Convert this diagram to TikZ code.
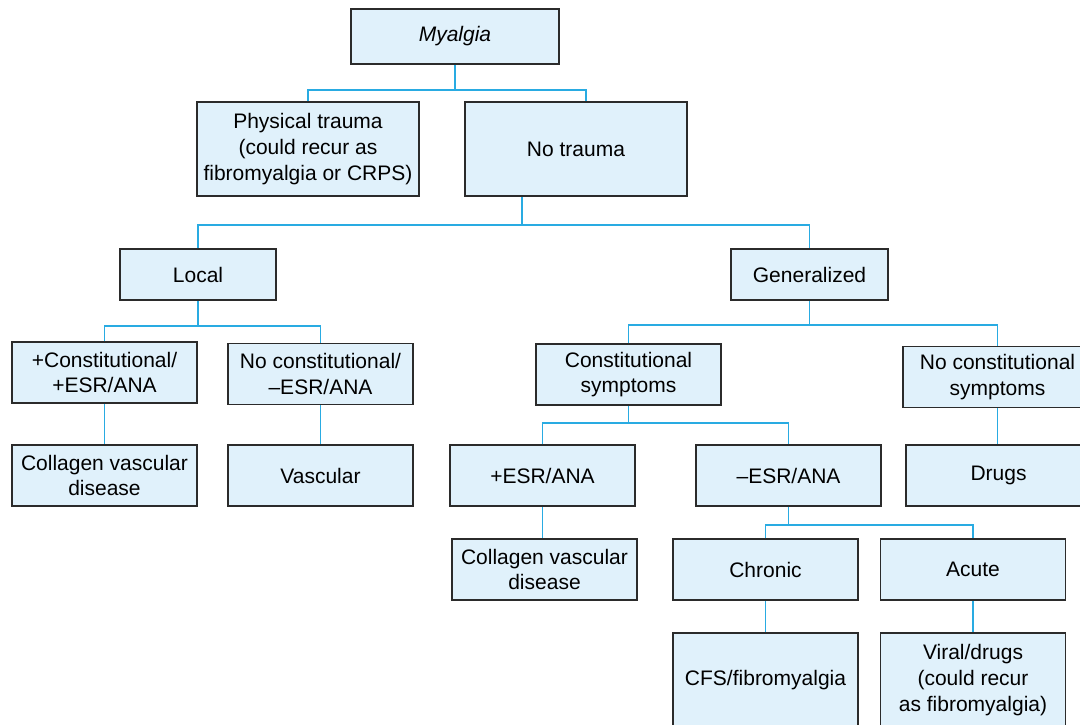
\documentclass[tikz,border=0pt]{standalone}
\usepackage{fontspec}
\setmainfont{Liberation Sans}
\definecolor{boxfill}{HTML}{E0F1FB}
\definecolor{linkblue}{HTML}{29ABE2}
\definecolor{boxedge}{HTML}{2B2B2B}
\begin{document}
\begin{tikzpicture}
  [x=0.5pt,y=-0.5pt,
   box/.style={draw=boxedge,fill=boxfill,line width=0.75pt,align=center,inner sep=0pt,
     minimum width=92.5pt,minimum height=30.5pt,font=\fontsize{10.5}{12.8}\selectfont},
   tall/.style={minimum height=47pt},
   link/.style={draw=linkblue,line width=0.75pt}]
  \useasboundingbox (0,0) rectangle (1080,724);
  \clip (0,0) rectangle (1080,724);

  % Cajas
  \node[box,minimum width=104pt,minimum height=27.5pt] (myalgia) at (455,36.5) {\itshape Myalgia};
  \node[box,tall,minimum width=111pt] (trauma) at (308,149) {Physical trauma\\(could recur as\\fibromyalgia or CRPS)};
  \node[box,tall,minimum width=111pt] (notrauma) at (576,149) {No trauma};

  \node[box,minimum width=78pt,minimum height=25.5pt] (local) at (198,274.5) {Local};
  \node[box,minimum width=78.5pt,minimum height=25.5pt] (general) at (809.5,274.5) {Generalized};

  \node[box] (constpos) at (104.5,372.5) {+Constitutional/\\+ESR/ANA};
  \node[box] (constneg) at (320.5,374) {No constitutional/\\\textendash ESR/ANA};
  \node[box] (collagenA) at (104.5,475.5) {Collagen vascular\\disease};
  \node[box] (vascular) at (320.5,475.5) {Vascular};

  \node[box] (constsym) at (628.5,374.5) {Constitutional\\symptoms};
  \node[box,minimum width=94.5pt] (noconst) at (997.5,377) {No constitutional\\symptoms};
  \node[box] (esrpos) at (542.5,475.5) {+ESR/ANA};
  \node[box] (esrneg) at (788.5,475.5) {\textendash ESR/ANA};
  \node[box] (drugs) at (998.5,475.5) {Drugs};
  \node[box] (collagenB) at (544.5,569.5) {Collagen vascular\\disease};
  \node[box] (chronic) at (765.5,569.5) {Chronic};
  \node[box] (acute) at (973,569.5) {Acute};
  \node[box,tall] (cfs) at (765.5,680) {CFS/fibromyalgia};
  \node[box,tall] (viral) at (973,680) {Viral/drugs\\(could recur\\as fibromyalgia)};

  % Conectores
  \draw[link] (myalgia.south) -- ++(0,25) coordinate (j0);
  \draw[link] (trauma.north) |- (j0) -| ([xshift=5pt]notrauma.north);
  \draw[link] ([xshift=-27pt]notrauma.south) -- ++(0,28) coordinate (j1);
  \draw[link] (local.north) |- (j1) -| (general.north);

  \draw[link] (local.south) -- ++(0,25) coordinate (j2);
  \draw[link] (constpos.north) |- (j2) -| (constneg.north);
  \draw[link] (constpos.south) -- (collagenA.north);
  \draw[link] (constneg.south) -- (vascular.north);

  \draw[link] (general.south) -- ++(0,24) coordinate (j3);
  \draw[link] (constsym.north) |- (j3) -| (noconst.north);
  \draw[link] (noconst.south) -- (noconst.south |- drugs.north);
  \draw[link] (constsym.south) -- ++(0,17) coordinate (j4);
  \draw[link] (esrpos.north) |- (j4) -| (esrneg.north);
  \draw[link] (esrpos.south) -- (esrpos.south |- collagenB.north);
  \draw[link] (esrneg.south) -- ++(0,18) coordinate (j5);
  \draw[link] (chronic.north) |- (j5) -| (acute.north);
  \draw[link] (chronic.south) -- (cfs.north);
  \draw[link] (acute.south) -- (viral.north);
\end{tikzpicture}
\end{document}
